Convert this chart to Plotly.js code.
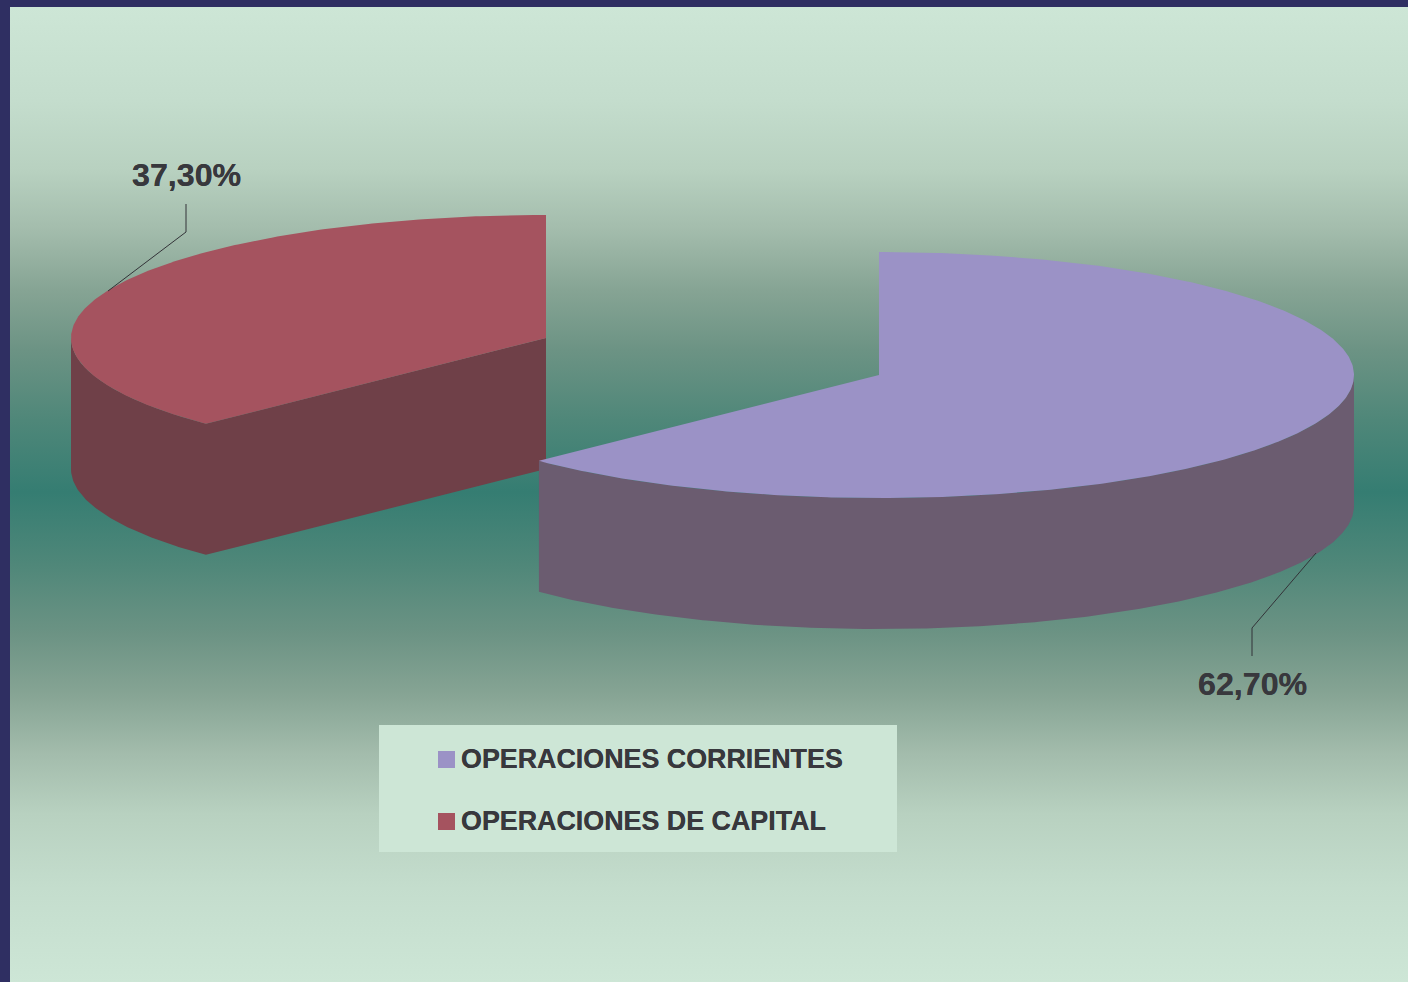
<!DOCTYPE html>
<html>
<head>
<meta charset="utf-8">
<script src="https://cdn.plot.ly/plotly-3.0.1.min.js"></script>
<style>
html,body{margin:0;padding:0;width:1408px;height:982px;overflow:hidden;background:#2f2f62;}
#bg{position:absolute;left:10px;top:7px;width:1398px;height:975px;
background:linear-gradient(to bottom,
#cde6d6 0px,#c4ddcd 93px,#b8d1c0 163px,#a3bcac 223px,#86a494 283px,#6c9384 343px,#4f8779 413px,#357d72 485px,
#4f8779 557px,#6c9384 627px,#86a494 687px,#a3bcac 747px,#b8d1c0 807px,#c4ddcd 881px,#cde6d6 975px);}
#chart{position:absolute;left:0;top:0;width:1408px;height:982px;}
</style>
</head>
<body>
<div id="bg"></div>
<div id="chart"></div>
<script>
const categories = ["OPERACIONES CORRIENTES", "OPERACIONES DE CAPITAL"];
const shares = [62.7, 37.3];
const topColors = ["#9b92c6", "#a5535f"];
const wallColors = ["#6b5c70", "#6f4048"];
const textColor = "#38383d";

// Pie projection (an ellipse with a fixed extrusion)
const RX = 475, RY = 123, DEPTH = 131;
const centers = [[879, 375], [546, 338]];

const total = shares.reduce((a, b) => a + b, 0);
const splitDeg = shares[0] / total * 360;

function pt(c, deg, dz) {
  const r = deg * Math.PI / 180;
  return [c[0] + RX * Math.sin(r), c[1] - RY * Math.cos(r) + (dz || 0)];
}
function arc(c, a, b, dz) {
  const out = [], n = Math.max(2, Math.ceil(Math.abs(b - a) * 2));
  for (let i = 0; i <= n; i++) out.push(pt(c, a + (b - a) * i / n, dz));
  return out;
}
function poly(points, color, name) {
  const pts = points.concat([points[0]]);
  return {
    type: "scatter", mode: "lines", x: pts.map(p => p[0]), y: pts.map(p => p[1]),
    fill: "toself", fillcolor: color, line: {width: 0},
    hoverinfo: "skip", showlegend: false, name: name
  };
}

const c0 = centers[0], c1 = centers[1];
const traces = [
  // capital slice: outer wall joined to its cut face, then the top
  poly(arc(c1, 270, splitDeg).concat([c1, [c1[0], c1[1] + DEPTH]], arc(c1, splitDeg, 270, DEPTH)), wallColors[1], categories[1]),
  poly([c1].concat(arc(c1, splitDeg, 360)), topColors[1], categories[1]),
  // current slice: outer wall, top
  poly(arc(c0, 90, splitDeg).concat(arc(c0, splitDeg, 90, DEPTH)), wallColors[0], categories[0]),
  poly([c0].concat(arc(c0, 0, splitDeg)), topColors[0], categories[0]),
  // legend swatches
  {type: "scatter", mode: "markers", x: [446.5, 446.5], y: [759.5, 821.5],
   marker: {symbol: "square", size: 17, color: topColors, line: {width: 0}},
   hoverinfo: "skip", showlegend: false}
];

const fmt = v => v.toFixed(2).replace(".", ",") + "%";
const heavy = "0 0 0.6px " + textColor;
const labelFont = {family: "Liberation Sans, Arial, sans-serif", size: 32.2, color: textColor, weight: 700, shadow: heavy};
const legendFont = {family: "Liberation Sans, Arial, sans-serif", size: 26.85, color: textColor, weight: 700, shadow: heavy};

const annotations = [
  {x: 1252.5, y: 684, text: "<b>" + fmt(shares[0]) + "</b>", font: labelFont},
  {x: 186, y: 175, text: "<b>" + fmt(shares[1]) + "</b>", font: labelFont},
  {x: 459, y: 758.5, text: "<b>" + categories[0] + "</b>", font: legendFont, xanchor: "left"},
  {x: 459, y: 820.5, text: "<b>" + categories[1] + "</b>", font: legendFont, xanchor: "left"}
].map(a => Object.assign({xref: "x", yref: "y", showarrow: false, xanchor: "center", yanchor: "middle"}, a));

const shapes = [
  {type: "rect", layer: "below", xref: "x", yref: "y", x0: 379, x1: 897, y0: 725, y1: 852,
   fillcolor: "#cde6d6", line: {width: 0}},
  {type: "path", xref: "x", yref: "y", path: "M186,204 L186,232 L108,291", line: {color: "#333338", width: 1}},
  {type: "path", xref: "x", yref: "y", path: "M1252,656 L1252,628 L1316,553", line: {color: "#333338", width: 1}}
];

const hidden = {visible: false, fixedrange: true, autorange: false};
Plotly.newPlot("chart", traces, {
  width: 1408, height: 982,
  margin: {l: 0, r: 0, t: 0, b: 0},
  paper_bgcolor: "rgba(0,0,0,0)", plot_bgcolor: "rgba(0,0,0,0)",
  xaxis: Object.assign({range: [0, 1408]}, hidden),
  yaxis: Object.assign({range: [982, 0]}, hidden),
  showlegend: false, hovermode: false,
  annotations: annotations, shapes: shapes
}, {displayModeBar: false, staticPlot: true});
</script>
</body>
</html>
